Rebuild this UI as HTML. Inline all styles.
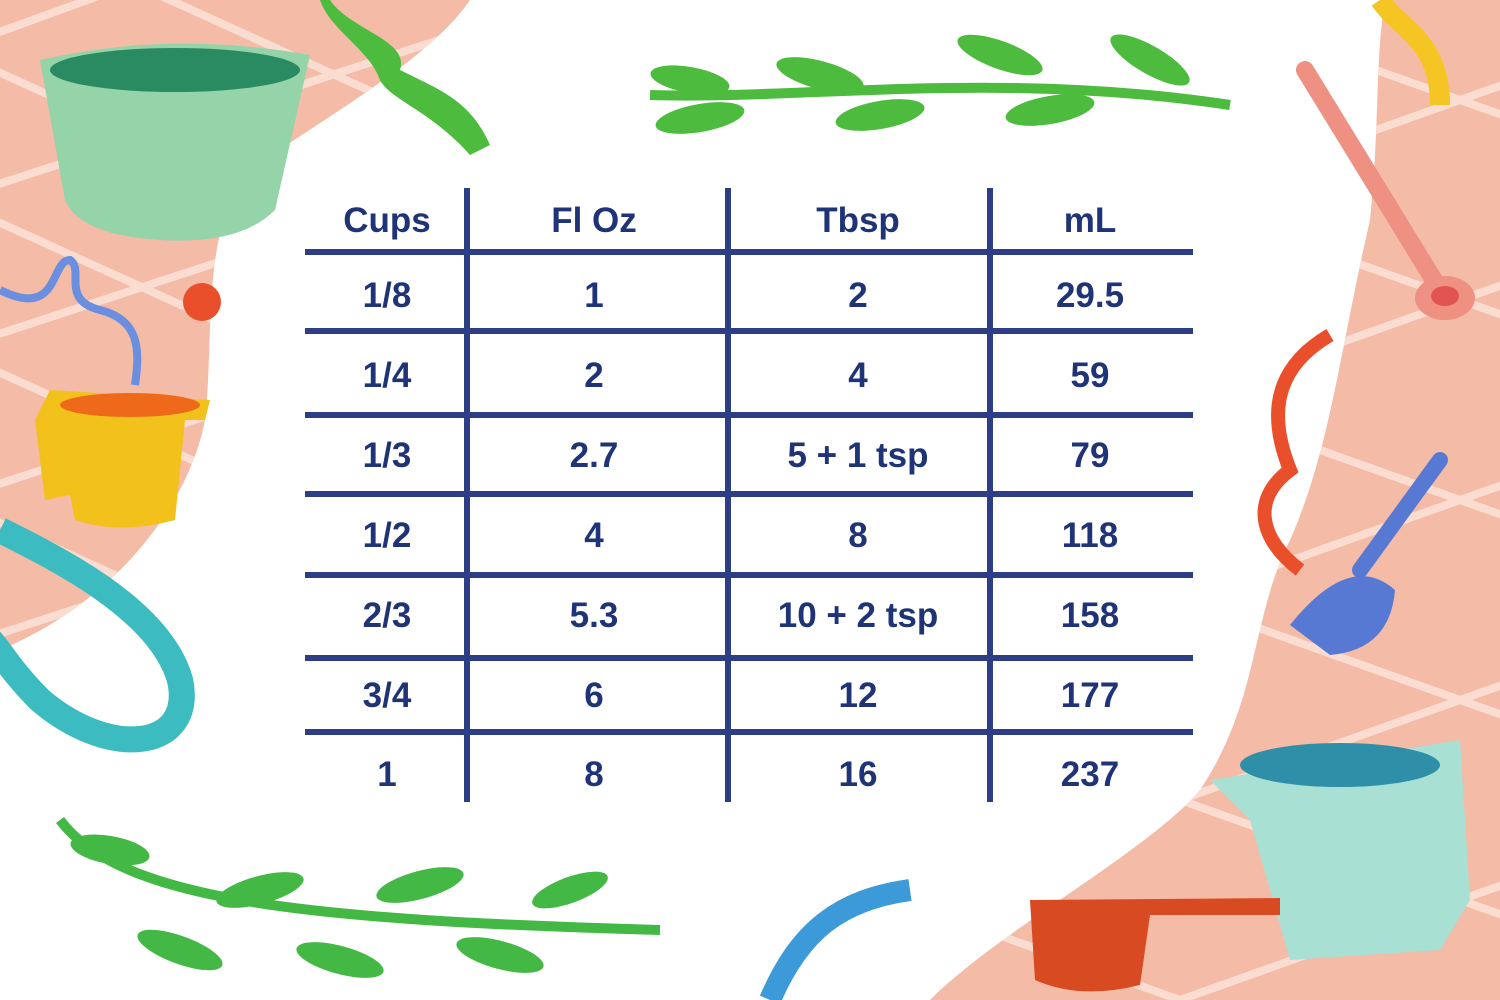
<!DOCTYPE html>
<html><head><meta charset="utf-8"><style>
html,body{margin:0;padding:0;background:#fff;width:1500px;height:1000px;overflow:hidden;}
svg{display:block;position:absolute;top:0;left:0}
text{font-family:"Liberation Sans",sans-serif;font-size:35px;font-weight:bold;fill:#1f3377;text-anchor:middle;}
</style></head><body>
<svg width="1500" height="1000" viewBox="0 0 1500 1000" xmlns="http://www.w3.org/2000/svg">
<defs>
<clipPath id="lp"><path d="M0 0 L470 0 C430 60 320 120 250 170 C200 230 215 330 205 420 C190 500 120 600 0 650 Z"/></clipPath>
<clipPath id="rp"><path d="M1385 0 L1500 0 L1500 1000 L930 1000 C1000 930 1150 850 1200 790 C1260 700 1250 620 1290 540 C1330 450 1340 350 1370 220 C1380 120 1375 60 1385 0 Z"/></clipPath>
</defs>
<g clip-path="url(#lp)">
<rect width="500" height="700" fill="#f4bba7"/>
<g stroke="#fbdcd0" stroke-width="8" fill="none">
<path d="M-50 50 L500 -150 M-50 200 L500 20 M-50 350 L500 170 M-50 500 L500 320 M-50 650 L500 470"/>
<path d="M-50 -100 L500 150 M-50 50 L500 300 M-50 200 L500 450 M-50 350 L500 600 M-50 500 L500 750"/>
</g></g>
<g clip-path="url(#rp)">
<rect x="900" width="600" height="1000" fill="#f4bba7"/>
<g stroke="#fbdcd0" stroke-width="8" fill="none">
<path d="M900 100 L1600 -150 M900 300 L1600 50 M900 500 L1600 250 M900 700 L1600 450 M900 900 L1600 650 M900 1100 L1600 850"/>
<path d="M900 -100 L1600 150 M900 100 L1600 350 M900 300 L1600 550 M900 500 L1600 750 M900 700 L1600 950 M900 900 L1600 1150"/>
</g></g>
<path d="M40 60 Q170 30 310 55 L275 210 Q240 245 160 240 Q80 235 65 200 Z" fill="#95d3a8"/>
<ellipse cx="175" cy="70" rx="125" ry="22" fill="#2a8a62"/>
<path d="M330 0 C350 30 410 40 400 70 C440 90 470 100 490 145 L470 155 C430 110 390 100 380 80 C370 50 330 30 320 0Z" fill="#4cbb3e"/>
<path d="M0 290 C60 320 50 260 70 260 C85 270 60 300 100 310 C140 320 140 350 135 385" stroke="#6a8ee0" stroke-width="8" fill="none"/>
<circle cx="202" cy="302" r="19" fill="#ea4f2c"/>
<path d="M50 390 L210 400 L205 420 L185 420 L175 520 Q120 535 75 520 L70 495 L45 500 L35 420 Z" fill="#f3c11c"/>
<ellipse cx="130" cy="405" rx="70" ry="12" fill="#ee6a1a"/>
<path d="M0 530 C60 560 160 610 180 680 C195 750 110 760 40 700 C10 670 0 650 -10 640" stroke="#3cbcc0" stroke-width="26" fill="none"/>
<path d="M60 820 C120 900 300 920 660 930" stroke="#44b845" stroke-width="10" fill="none"/>
<g fill="#44b845"><ellipse cx="110" cy="850" rx="40" ry="14" transform="rotate(10 110 850)"/><ellipse cx="180" cy="950" rx="45" ry="14" transform="rotate(20 180 950)"/><ellipse cx="260" cy="890" rx="45" ry="14" transform="rotate(-15 260 890)"/><ellipse cx="340" cy="960" rx="45" ry="14" transform="rotate(15 340 960)"/><ellipse cx="420" cy="885" rx="45" ry="14" transform="rotate(-15 420 885)"/><ellipse cx="500" cy="955" rx="45" ry="14" transform="rotate(15 500 955)"/><ellipse cx="570" cy="890" rx="40" ry="13" transform="rotate(-20 570 890)"/></g>
<path d="M770 1000 C800 930 840 900 910 890" stroke="#3d9ad8" stroke-width="22" fill="none"/>
<path d="M650 95 C800 100 1000 70 1230 105" stroke="#4cbb3e" stroke-width="10" fill="none"/>
<g fill="#4cbb3e"><ellipse cx="690" cy="80" rx="40" ry="13" transform="rotate(10 690 80)"/><ellipse cx="700" cy="118" rx="45" ry="14" transform="rotate(-10 700 118)"/><ellipse cx="820" cy="75" rx="45" ry="14" transform="rotate(15 820 75)"/><ellipse cx="880" cy="115" rx="45" ry="14" transform="rotate(-10 880 115)"/><ellipse cx="1000" cy="55" rx="45" ry="14" transform="rotate(20 1000 55)"/><ellipse cx="1050" cy="110" rx="45" ry="14" transform="rotate(-10 1050 110)"/><ellipse cx="1150" cy="60" rx="45" ry="14" transform="rotate(30 1150 60)"/></g>
<path d="M1380 0 C1400 30 1440 40 1440 105" stroke="#f5c623" stroke-width="20" fill="none"/>
<path d="M1305 70 L1440 290" stroke="#ee9182" stroke-width="18" stroke-linecap="round"/>
<ellipse cx="1445" cy="298" rx="30" ry="22" fill="#ee9182"/><ellipse cx="1445" cy="296" rx="14" ry="10" fill="#e25452"/>
<path d="M1330 335 C1270 370 1270 420 1290 470 C1250 500 1260 540 1300 570" stroke="#ea4f2c" stroke-width="14" fill="none"/>
<path d="M1440 460 L1360 570" stroke="#5779d4" stroke-width="16" stroke-linecap="round"/>
<path d="M1290 625 Q1350 550 1395 590 Q1390 650 1330 655 Z" fill="#5779d4"/>
<path d="M1210 780 L1460 740 L1470 900 L1440 950 L1290 960 L1250 820 Z" fill="#a9e0d4"/>
<ellipse cx="1340" cy="765" rx="100" ry="22" fill="#2f8fa8"/>
<path d="M1030 900 L1280 898 L1280 915 L1150 915 L1140 985 Q1080 1000 1035 980 Z" fill="#d84a22"/>
<g fill="#2d3e85">
<rect x="305" y="249" width="888" height="6"/><rect x="305" y="328" width="888" height="6"/><rect x="305" y="412" width="888" height="6"/><rect x="305" y="491" width="888" height="6"/><rect x="305" y="572" width="888" height="6"/><rect x="305" y="655" width="888" height="6"/><rect x="305" y="729" width="888" height="6"/>
<rect x="464" y="188" width="6" height="614"/><rect x="725" y="188" width="6" height="614"/><rect x="987" y="188" width="6" height="614"/>
</g>
<g>
<text x="387" y="232">Cups</text><text x="594" y="232">Fl Oz</text><text x="858" y="232">Tbsp</text><text x="1090" y="232">mL</text>
<text x="387" y="307">1/8</text><text x="594" y="307">1</text><text x="858" y="307">2</text><text x="1090" y="307">29.5</text>
<text x="387" y="387">1/4</text><text x="594" y="387">2</text><text x="858" y="387">4</text><text x="1090" y="387">59</text>
<text x="387" y="467">1/3</text><text x="594" y="467">2.7</text><text x="858" y="467">5 + 1 tsp</text><text x="1090" y="467">79</text>
<text x="387" y="547">1/2</text><text x="594" y="547">4</text><text x="858" y="547">8</text><text x="1090" y="547">118</text>
<text x="387" y="627">2/3</text><text x="594" y="627">5.3</text><text x="858" y="627">10 + 2 tsp</text><text x="1090" y="627">158</text>
<text x="387" y="707">3/4</text><text x="594" y="707">6</text><text x="858" y="707">12</text><text x="1090" y="707">177</text>
<text x="387" y="786">1</text><text x="594" y="786">8</text><text x="858" y="786">16</text><text x="1090" y="786">237</text>
</g>
</svg>
</body></html>
